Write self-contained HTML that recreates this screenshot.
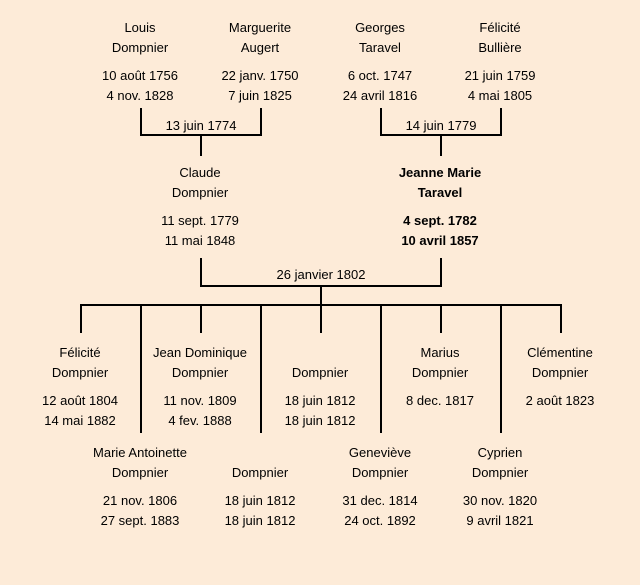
<!DOCTYPE html>
<html><head><meta charset="utf-8"><style>
html,body{margin:0;padding:0;}
body{width:640px;height:585px;background:#fdebd8;position:relative;overflow:hidden;font-family:"Liberation Sans",sans-serif;font-size:13px;color:#000;}
.t{position:absolute;width:160px;margin-left:-80px;text-align:center;line-height:16px;white-space:nowrap;}
.b{font-weight:bold;}
svg{position:absolute;left:0;top:0;}
</style></head><body>
<svg width="640" height="585">
<g stroke="#000" stroke-width="2" fill="none">
<path d="M141 108V135H261V108M201 135V156"/>
<path d="M381 108V135H501V108M441 135V156"/>
<path d="M201 258V286H441V258M321 286V305"/>
<path d="M80 305H562"/>
<path d="M81 305V333M201 305V333M321 305V333M441 305V333M561 305V333"/>
<path d="M141 305V433M261 305V433M381 305V433M501 305V433"/>
</g>
</svg>
<div id="c"></div>
<script>
var d=[
[140,20,["Louis","Dompnier",null,"10 août 1756","4 nov. 1828"]],
[260,20,["Marguerite","Augert",null,"22 janv. 1750","7 juin 1825"]],
[380,20,["Georges","Taravel",null,"6 oct. 1747","24 avril 1816"]],
[500,20,["Félicité","Bullière",null,"21 juin 1759","4 mai 1805"]],
[201,118,["13 juin 1774"]],
[441,118,["14 juin 1779"]],
[200,165,["Claude","Dompnier",null,"11 sept. 1779","11 mai 1848"]],
[440,165,["Jeanne Marie","Taravel",null,"4 sept. 1782","10 avril 1857"],1],
[321,267,["26 janvier 1802"]],
[80,345,["Félicité","Dompnier",null,"12 août 1804","14 mai 1882"]],
[200,345,["Jean Dominique","Dompnier",null,"11 nov. 1809","4 fev. 1888"]],
[320,365,["Dompnier",null,"18 juin 1812","18 juin 1812"]],
[440,345,["Marius","Dompnier",null,"8 dec. 1817"]],
[560,345,["Clémentine","Dompnier",null,"2 août 1823"]],
[140,445,["Marie Antoinette","Dompnier",null,"21 nov. 1806","27 sept. 1883"]],
[260,465,["Dompnier",null,"18 juin 1812","18 juin 1812"]],
[380,445,["Geneviève","Dompnier",null,"31 dec. 1814","24 oct. 1892"]],
[500,445,["Cyprien","Dompnier",null,"30 nov. 1820","9 avril 1821"]]
];
var h="";
d.forEach(function(e){var y=e[1];e[2].forEach(function(s){if(s===null){y+=8;return;}
h+='<div class="t'+(e[3]?' b':'')+'" style="left:'+e[0]+'px;top:'+y+'px">'+s+'</div>';y+=20;});});
document.getElementById("c").innerHTML=h;
</script>
</body></html>
